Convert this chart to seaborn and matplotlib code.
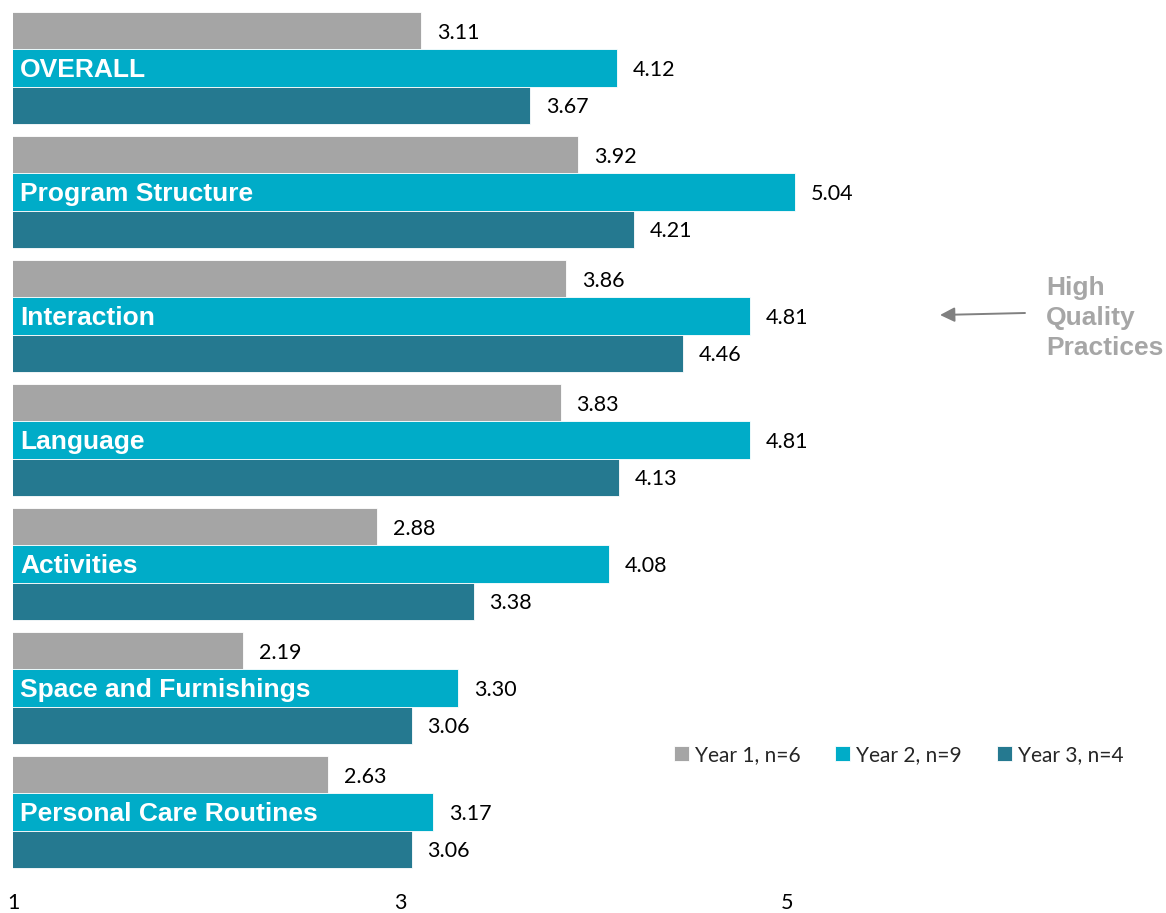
import matplotlib
matplotlib.use("Agg")
import matplotlib.pyplot as plt
import seaborn as sns
import pandas as pd

# Scores per quality domain and program year
domains = ["OVERALL", "Program Structure", "Interaction", "Language",
           "Activities", "Space and Furnishings", "Personal Care Routines"]
year_labels = ["Year 1, n=6", "Year 2, n=9", "Year 3, n=4"]
year1 = [3.11, 3.92, 3.86, 3.83, 2.88, 2.19, 2.63]
year2 = [4.12, 5.04, 4.81, 4.81, 4.08, 3.30, 3.17]
year3 = [3.67, 4.21, 4.46, 4.13, 3.38, 3.06, 3.06]
x_ticks = [1, 3, 5]
palette = ["#A5A5A5", "#00ACC8", "#257990"]

df = pd.DataFrame({
    "domain": domains * 3,
    "year": [year_labels[0]] * 7 + [year_labels[1]] * 7 + [year_labels[2]] * 7,
    "score": year1 + year2 + year3,
})

sns.set_theme(style="white")
plt.rcParams["font.family"] = ["Lato", "DejaVu Sans"]

W, H = 1166, 913
fig = plt.figure(figsize=(W / 100, H / 100), dpi=100)
ax = fig.add_axes([13 / W, (H - 885) / H, (W - 13) / W, 885 / H])

sns.barplot(data=df, y="domain", x="score", hue="year", order=domains,
            hue_order=year_labels, palette=palette, width=0.9, orient="h",
            saturation=1, edgecolor="white", linewidth=0.6, ax=ax)

ax.set_xlim(1, 1 + (W - 13) / 193.5)
ax.set_ylim(6.589, -0.548)
for s in ax.spines.values():
    s.set_visible(False)
ax.set_xlabel("")
ax.set_ylabel("")
ax.set_yticks([])
ax.set_xticks(x_ticks)
ax.set_xticklabels([str(t) for t in x_ticks], fontsize=15.5, color="#000000")
ax.tick_params(axis="x", length=0, pad=5.5)

# value labels at bar ends
for cont in ax.containers:
    texts = ax.bar_label(cont, fmt="%.2f", padding=11.5, fontsize=15.5, color="#000000")
    for t in texts:
        t.set_verticalalignment("center_baseline")

# domain names inside the middle bar
for k, name in enumerate(domains):
    ax.annotate(name, xy=(1, k), xytext=(5, -1.5), textcoords="offset points",
                ha="left", va="center", fontsize=19, fontweight="bold",
                color="white", family=["Liberation Sans", "DejaVu Sans"])

handles, labels = ax.get_legend_handles_labels()
ax.legend(handles, labels, loc="center left", bbox_to_anchor=(674 / W, (H - 755) / H),
          bbox_transform=fig.transFigure, ncol=3, frameon=False, fontsize=15,
          handlelength=0.72, handleheight=0.72, handletextpad=0.3,
          columnspacing=1.65, borderpad=0, borderaxespad=0)

# callout
fig.text(1046 / W, (H - 276) / H, "High\nQuality\nPractices", ha="left", va="top",
         fontsize=19, fontweight="bold", color="#A6A6A6", linespacing=1.32,
         family=["Liberation Sans", "DejaVu Sans"])
ax.annotate("", xy=(940, H - 315), xytext=(1025, H - 313), xycoords="figure pixels",
            textcoords="figure pixels",
            arrowprops=dict(arrowstyle="-|>", color="#808080", lw=1.4,
                            mutation_scale=22, shrinkA=0, shrinkB=0))

fig.savefig("out.png", dpi=100)
